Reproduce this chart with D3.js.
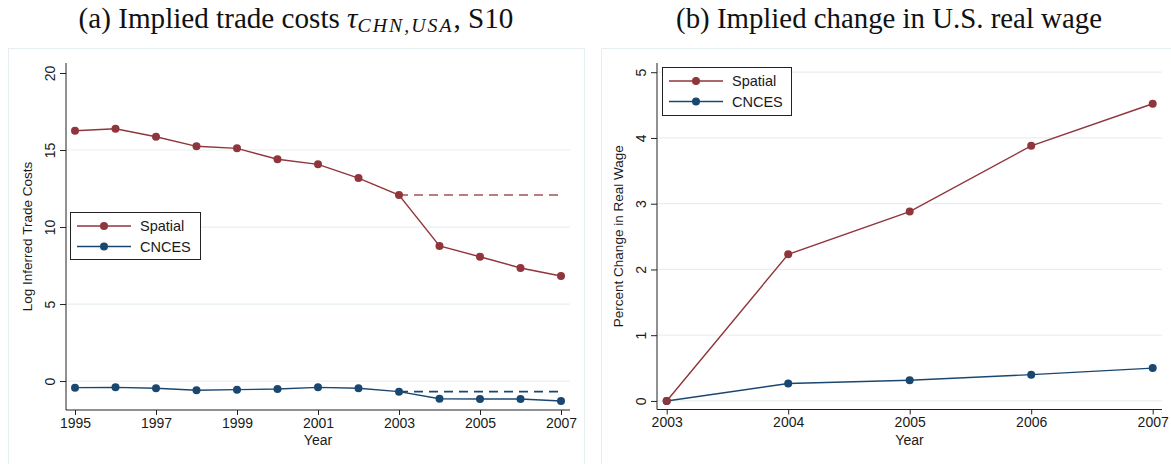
<!DOCTYPE html>
<html>
<head>
<meta charset="utf-8">
<script src="https://cdn.jsdelivr.net/npm/d3@7"></script>
<style>
  body { margin: 0; background: #fff; }
  svg { display: block; }
  .tick text { font-family: "Liberation Sans", Arial, sans-serif; }
</style>
</head>
<body>
<svg width="1171" height="464"></svg>
<script>
// panel (a) data
const yearsA = [1995, 1996, 1997, 1998, 1999, 2000, 2001, 2002, 2003, 2004, 2005, 2006, 2007];
const spatialA = [16.25, 16.38, 15.86, 15.24, 15.11, 14.40, 14.07, 13.18, 12.08, 8.77, 8.07, 7.34, 6.82];
const cncesA = [-0.43, -0.41, -0.47, -0.60, -0.56, -0.52, -0.41, -0.47, -0.69, -1.15, -1.17, -1.17, -1.30];
const flatYearsA = [2003, 2007];
const spatialFlatA = [12.08, 12.08];
const cncesFlatA = [-0.69, -0.69];
const xTicksA = [1995, 1997, 1999, 2001, 2003, 2005, 2007];
const yTicksA = [0, 5, 10, 15, 20];

// panel (b) data
const yearsB = [2003, 2004, 2005, 2006, 2007];
const spatialB = [0, 2.23, 2.88, 3.88, 4.52];
const cncesB = [0, 0.265, 0.315, 0.40, 0.50];
const xTicksB = [2003, 2004, 2005, 2006, 2007];
const yTicksB = [0, 1, 2, 3, 4, 5];

const seriesNames = ['Spatial', 'CNCES'];
const maroon = '#90353b', navy = '#1a476f';
const gridCol = '#e8eff2', frameCol = '#e6eef2';
const sans = '"Liberation Sans", Arial, sans-serif';
const serif = '"Liberation Serif", "Times New Roman", serif';

const svg = d3.select('svg');

// panel frames
svg.append('rect').attr('x', 8.5).attr('y', 48.5).attr('width', 576).attr('height', 430)
  .attr('fill', 'none').attr('stroke', frameCol);
svg.append('rect').attr('x', 601.5).attr('y', 48.5).attr('width', 600).attr('height', 430)
  .attr('fill', 'none').attr('stroke', frameCol);

function fitWidth(sel, target) {
  const w = sel.node().getComputedTextLength();
  const fs = parseFloat(sel.attr('font-size'));
  sel.attr('font-size', fs * target / w);
}

// titles
const tA = svg.append('text').attr('x', 296).attr('y', 28).attr('text-anchor', 'middle')
  .attr('font-family', serif).attr('font-size', 24).attr('fill', '#111');
tA.append('tspan').text('(a) Implied trade costs ');
tA.append('tspan').attr('font-style', 'italic').text('τ');
tA.append('tspan').attr('font-style', 'italic').attr('font-size', '0.68em').attr('dy', 4)
  .attr('letter-spacing', 2).text('CHN,USA');
tA.append('tspan').attr('dy', -4).text(', S10');
fitWidth(tA, 438);

const tB = svg.append('text').attr('x', 889).attr('y', 28).attr('text-anchor', 'middle')
  .attr('font-family', serif).attr('font-size', 24).attr('fill', '#111')
  .text('(b) Implied change in U.S. real wage');
fitWidth(tB, 426);

function panel(cfg) {
  const g = svg.append('g');
  const x = d3.scaleLinear().domain(cfg.xDom).range(cfg.xRange);
  const y = d3.scaleLinear().domain(cfg.yDom).range([cfg.bottom, cfg.top]);

  // grid
  g.selectAll('line.grid').data(cfg.yTicks.filter(cfg.gridFilter)).enter().append('line')
    .attr('x1', cfg.left).attr('x2', cfg.right)
    .attr('y1', d => y(d)).attr('y2', d => y(d))
    .attr('stroke', gridCol).attr('stroke-width', 1.2);

  // y axis
  const ya = g.append('g').attr('transform', `translate(${cfg.left},0)`)
    .call(d3.axisLeft(y).tickValues(cfg.yTicks).tickSize(6).tickPadding(6).tickFormat(d3.format('d')));
  ya.select('.domain').attr('d', `M0,${cfg.top}V${cfg.bottom}`).attr('stroke', '#222');
  ya.selectAll('.tick line').attr('stroke', '#222');
  ya.selectAll('.tick text').attr('font-size', 14).attr('fill', '#1a1a1a')
    .attr('text-anchor', 'middle').attr('x', 0).attr('dy', 0)
    .attr('transform', `translate(-16,0) rotate(-90)`).attr('y', 5);

  // x axis
  const xa = g.append('g').attr('transform', `translate(0,${cfg.bottom})`)
    .call(d3.axisBottom(x).tickValues(cfg.xTicks).tickSize(5).tickPadding(3).tickFormat(d3.format('d')));
  xa.select('.domain').attr('d', `M${cfg.left},0H${cfg.right}`).attr('stroke', '#222');
  xa.selectAll('.tick line').attr('stroke', '#222');
  xa.selectAll('.tick text').attr('font-size', 14).attr('fill', '#1a1a1a');

  g.append('text').attr('x', (cfg.left + cfg.right) / 2).attr('y', cfg.bottom + 35)
    .attr('text-anchor', 'middle').attr('font-family', sans).attr('font-size', 14)
    .attr('fill', '#1a1a1a').text('Year');
  g.append('text').attr('transform', `translate(${cfg.yLabelX},${(cfg.top + cfg.bottom) / 2}) rotate(-90)`)
    .attr('text-anchor', 'middle').attr('font-family', sans).attr('font-size', 13.5)
    .attr('fill', '#1a1a1a').text(cfg.yLabel);

  const line = d3.line().x(d => x(d[0])).y(d => y(d[1]));

  // dashed counterfactuals
  (cfg.flats || []).forEach(f => {
    g.append('path').datum(d3.zip(f.xs, f.ys)).attr('d', line)
      .attr('fill', 'none').attr('stroke', f.color).attr('stroke-opacity', f.op)
      .attr('stroke-width', 1.6).attr('stroke-dasharray', '9,6');
  });

  cfg.series.forEach(s => {
    const pts = d3.zip(cfg.xs, s.ys);
    g.append('path').datum(pts).attr('d', line)
      .attr('fill', 'none').attr('stroke', s.color).attr('stroke-width', 1.4);
    g.selectAll(null).data(pts).enter().append('circle')
      .attr('cx', d => x(d[0])).attr('cy', d => y(d[1])).attr('r', 4)
      .attr('fill', s.color);
  });

  // legend
  const L = cfg.legend;
  const lg = g.append('g');
  lg.append('rect').attr('x', L.x + 0.5).attr('y', L.y + 0.5).attr('width', L.w).attr('height', L.h)
    .attr('fill', '#fff').attr('stroke', '#222').attr('stroke-width', 1);
  [{ name: seriesNames[0], color: maroon }, { name: seriesNames[1], color: navy }].forEach((it, i) => {
    const yy = L.y + 14 + i * 20.5;
    lg.append('line').attr('x1', L.x + 7).attr('x2', L.x + 61).attr('y1', yy).attr('y2', yy)
      .attr('stroke', it.color).attr('stroke-width', 1.4);
    lg.append('circle').attr('cx', L.x + 34).attr('cy', yy).attr('r', 4).attr('fill', it.color);
    lg.append('text').attr('x', L.x + 70).attr('y', yy + 5).attr('font-family', sans)
      .attr('font-size', 14.5).attr('fill', '#1a1a1a').text(it.name);
  });
}

panel({
  xDom: [1995, 2007], xRange: [75, 561], yDom: [-1.88, 20.65],
  left: 66, right: 570, top: 63, bottom: 410,
  xTicks: xTicksA, yTicks: yTicksA, gridFilter: d => d !== 20,
  xs: yearsA,
  series: [{ ys: cncesA, color: navy }, { ys: spatialA, color: maroon }],
  flats: [{ xs: flatYearsA, ys: spatialFlatA, color: maroon, op: 0.85 },
          { xs: flatYearsA, ys: cncesFlatA, color: navy, op: 1 }],
  yLabel: 'Log Inferred Trade Costs', yLabelX: 32,
  legend: { x: 70, y: 212, w: 130, h: 47 }
});

panel({
  xDom: [2003, 2007], xRange: [666.7, 1152.7], yDom: [-0.13, 5.14],
  left: 657, right: 1162, top: 63, bottom: 409.5,
  xTicks: xTicksB, yTicks: yTicksB, gridFilter: d => true,
  xs: yearsB,
  series: [{ ys: cncesB, color: navy }, { ys: spatialB, color: maroon }],
  yLabel: 'Percent Change in Real Wage', yLabelX: 623,
  legend: { x: 662, y: 67, w: 129, h: 48 }
});
</script>
</body>
</html>
